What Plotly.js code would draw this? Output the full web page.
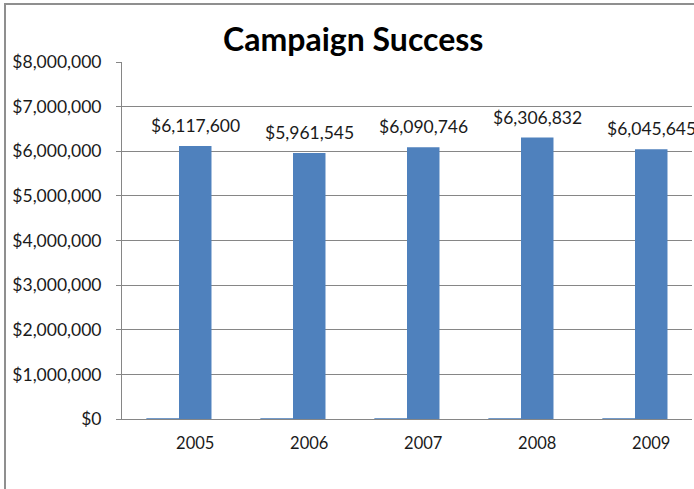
<!DOCTYPE html>
<html>
<head>
<meta charset="utf-8">
<script src="https://cdn.plot.ly/plotly-3.0.1.min.js"></script>
<style>
  html, body { margin: 0; padding: 0; background: #fff; overflow: hidden; }
  #wrap { position: relative; width: 694px; height: 489px; }
  #chart { position: absolute; left: 0; top: 0; width: 694px; height: 489px; }
  #frame { position: absolute; left: 4px; top: 3px; width: 720px; height: 520px;
           border-left: 2px solid #8f8f8f; border-top: 2px solid #8f8f8f; pointer-events: none; }
</style>
</head>
<body>
<div id="wrap">
  <div id="chart"></div>
  <div id="frame"></div>
</div>
<script>
// Data
const years = [2005, 2006, 2007, 2008, 2009];
const yearSeries = [2005, 2006, 2007, 2008, 2009];          // "Year" plotted as a series (tiny bars)
const amounts = [6117600, 5961545, 6090746, 6306832, 6045645];
const yTickVals = [0, 1000000, 2000000, 3000000, 4000000, 5000000, 6000000, 7000000, 8000000];

const BLUE = '#4F81BD';
const GRID = '#868686';
const FONT = 'Lato, "Open Sans", sans-serif';
const barW = 0.285;

const fmt = v => '$' + v.toLocaleString('en-US');

const traces = [
  {
    type: 'bar', x: years, y: yearSeries, width: barW, offset: -barW,
    marker: { color: BLUE, line: { color: BLUE, width: 1 } },
    hoverinfo: 'skip', showlegend: false
  },
  {
    type: 'bar', x: years, y: amounts, width: barW, offset: 0,
    marker: { color: BLUE, line: { width: 0 } },
    hoverinfo: 'skip', showlegend: false
  }
];

const annotations = years.map((yr, i) => ({
  x: yr + barW / 2, y: amounts[i], xref: 'x', yref: 'y',
  text: fmt(amounts[i]), showarrow: false,
  xanchor: 'center', yanchor: 'bottom', yshift: 8,
  font: { family: FONT, size: 17.5, color: '#1a1a1a' }
}));

const layout = {
  width: 694, height: 489,
  margin: { l: 122, r: 2, t: 62, b: 70, pad: 0 },
  paper_bgcolor: '#fff', plot_bgcolor: '#fff',
  barmode: 'overlay',
  title: {
    text: '<b>Campaign Success</b>',
    font: { family: FONT, size: 32, color: '#000' },
    xref: 'container', yref: 'container', x: 0.509, y: 0.918,
    xanchor: 'center', yanchor: 'middle'
  },
  xaxis: {
    type: 'linear', range: [2004.5, 2009.5],
    tickvals: years.map(y => y + barW / 2), ticktext: years.map(String),
    showgrid: false, zeroline: false, showline: true, linecolor: GRID, linewidth: 1,
    ticks: '', ticklabelstandoff: 9,
    tickfont: { family: FONT, size: 16.5, color: '#1a1a1a' }, fixedrange: true
  },
  yaxis: {
    range: [0, 8000000], tickmode: 'array', tickvals: yTickVals, ticktext: yTickVals.map(fmt),
    showgrid: true, gridcolor: GRID, gridwidth: 1, zeroline: false,
    showline: true, linecolor: GRID, linewidth: 1,
    ticks: 'outside', ticklen: 5, tickcolor: GRID, ticklabelstandoff: 11,
    tickfont: { family: FONT, size: 17.5, color: '#1a1a1a' }, fixedrange: true
  },
  annotations: annotations
};

Plotly.newPlot('chart', traces, layout, { staticPlot: true, displayModeBar: false });
</script>
</body>
</html>
